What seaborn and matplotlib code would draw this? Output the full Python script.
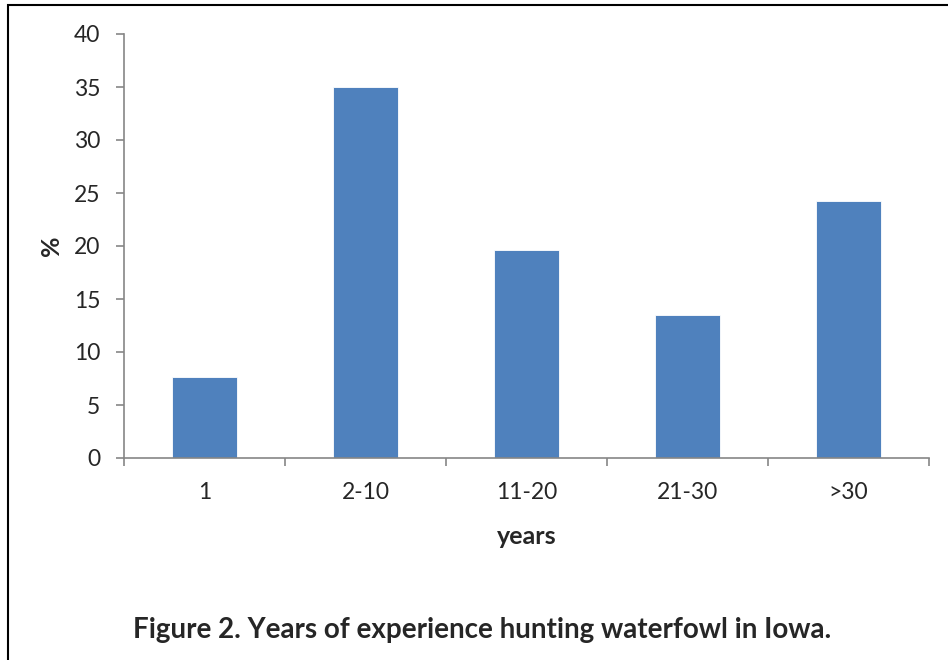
import matplotlib
matplotlib.use("Agg")
import matplotlib.pyplot as plt
import seaborn as sns
import pandas as pd
from matplotlib.ticker import FixedLocator, NullFormatter
from matplotlib.patches import Rectangle

categories = ["1", "2-10", "11-20", "21-30", ">30"]
percent = [7.6, 35.0, 19.6, 13.5, 24.2]
yticks = [0, 5, 10, 15, 20, 25, 30, 35, 40]

sns.set_theme(style="white")
plt.rcParams['font.family'] = ['Lato', 'DejaVu Sans']

df = pd.DataFrame({"years": categories, "pct": percent})

fig = plt.figure(figsize=(9.48, 6.6), dpi=100)
ax = fig.add_axes([124/948, 1-458/660, (929-124)/948, (458-34)/660])

sns.barplot(data=df, x="years", y="pct", color="#4F81BD", width=0.4,
            saturation=1, ax=ax, edgecolor="white", linewidth=0.6)

ax.set_xlim(-0.5, 4.5)
ax.set_ylim(0, 40)
ax.set_yticks(yticks)
ax.set_yticklabels([str(v) for v in yticks], fontsize=16.5)
ax.tick_params(axis="x", which="major", length=0, labelsize=16.5, pad=17)
ax.xaxis.set_minor_locator(FixedLocator([-0.5, 0.5, 1.5, 2.5, 3.5, 4.5]))
ax.xaxis.set_minor_formatter(NullFormatter())
ax.tick_params(axis="x", which="minor", length=6, width=1.2, color="#868686", direction="out", bottom=True)
ax.tick_params(axis="y", length=6, width=1.2, color="#868686", direction="out", left=True, pad=11)

for s in ["top", "right"]:
    ax.spines[s].set_visible(False)
for s in ["left", "bottom"]:
    ax.spines[s].set_color("#868686")
    ax.spines[s].set_linewidth(1.2)

ax.set_xlabel("years", fontsize=18, fontweight="bold", labelpad=16)
ax.set_ylabel("%", fontsize=18, fontweight="bold", labelpad=8)

fig.text(482/948, 1-630/660, "Figure 2. Years of experience hunting waterfowl in Iowa.",
         ha="center", va="center", fontsize=20, fontweight="bold")

fig.patches.append(Rectangle((8/948, -0.1), 1.2, 1-5.5/660+0.1, transform=fig.transFigure,
                             fill=False, edgecolor="black", linewidth=1.5))

fig.savefig("out.png", dpi=100)
